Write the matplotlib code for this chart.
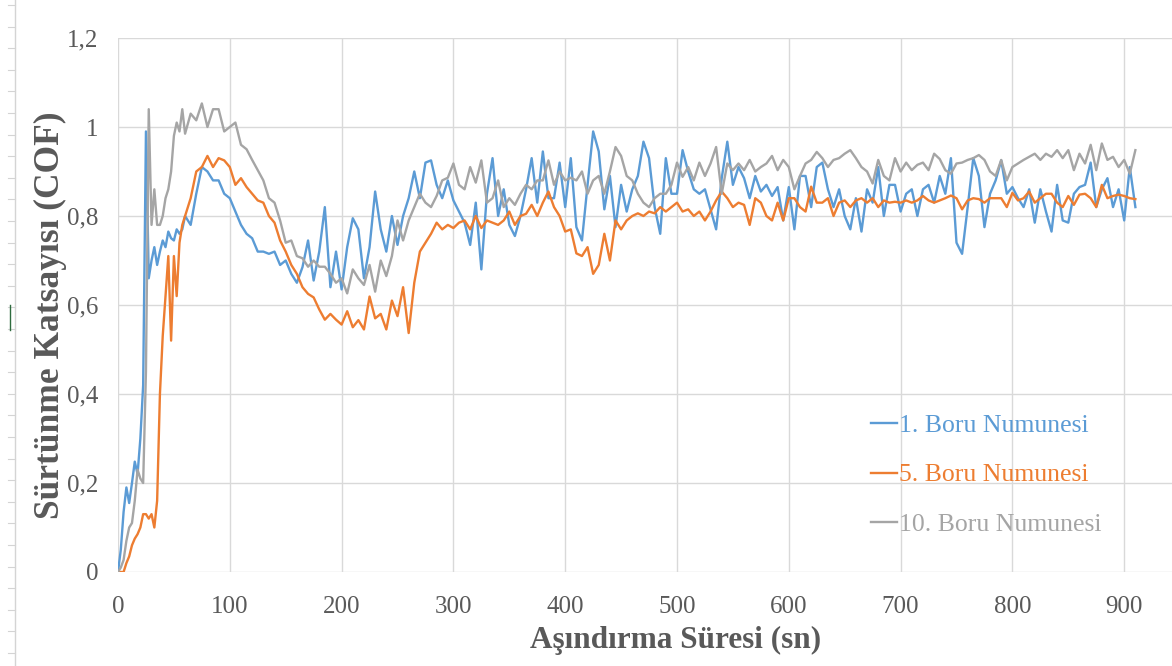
import numpy as np
import matplotlib
matplotlib.use("Agg")
import matplotlib.pyplot as plt
from matplotlib.lines import Line2D

# ---------------- data ----------------
time_s = np.concatenate([np.arange(0, 60, 2.5), np.arange(60, 911, 5)])

boru_1 = [
    0, 0.05, 0.135, 0.19, 0.155, 0.20, 0.248, 0.22, 0.30, 0.42,
    0.99, 0.66, 0.70, 0.73, 0.69, 0.72, 0.745, 0.73, 0.765, 0.75,
    0.745, 0.77, 0.76, 0.77,
    0.80, 0.78, 0.85, 0.91, 0.90, 0.88, 0.88, 0.85, 0.84, 0.81,
    0.78, 0.76, 0.75, 0.72, 0.72, 0.715, 0.72, 0.69, 0.70, 0.67,
    0.65, 0.685, 0.745, 0.655, 0.72, 0.82, 0.64, 0.72, 0.635, 0.73,
    0.795, 0.77, 0.66, 0.73, 0.855, 0.77, 0.72, 0.80, 0.735, 0.80,
    0.84, 0.90, 0.84, 0.92, 0.925, 0.87, 0.84, 0.88, 0.835, 0.81,
    0.785, 0.735, 0.83, 0.68, 0.85, 0.93, 0.80, 0.86, 0.78, 0.755,
    0.80, 0.86, 0.93, 0.83, 0.945, 0.84, 0.84, 0.92, 0.82, 0.93,
    0.775, 0.745, 0.87, 0.99, 0.945, 0.815, 0.89, 0.775, 0.87, 0.81,
    0.86, 0.89, 0.967, 0.93, 0.82, 0.76, 0.93, 0.85, 0.85, 0.948,
    0.90, 0.86, 0.85, 0.86, 0.815, 0.77, 0.885, 0.967, 0.87, 0.91,
    0.885, 0.84, 0.89, 0.855, 0.87, 0.845, 0.865, 0.79, 0.865, 0.77,
    0.89, 0.89, 0.82, 0.91, 0.92, 0.86, 0.82, 0.86, 0.80, 0.77,
    0.84, 0.765, 0.86, 0.83, 0.91, 0.80, 0.87, 0.87, 0.81, 0.85,
    0.86, 0.80, 0.86, 0.87, 0.83, 0.89, 0.85, 0.93, 0.74, 0.715,
    0.82, 0.93, 0.89, 0.775, 0.85, 0.88, 0.925, 0.85, 0.865, 0.84,
    0.82, 0.86, 0.785, 0.86, 0.81, 0.765, 0.87, 0.79, 0.785, 0.85,
    0.865, 0.87, 0.92, 0.82, 0.86, 0.885, 0.82, 0.86, 0.79, 0.91,
    0.82,
]

boru_5 = [
    0, 0, 0.0, 0.02, 0.035, 0.06, 0.075, 0.085, 0.10, 0.13,
    0.13, 0.12, 0.13, 0.10, 0.16, 0.40, 0.53, 0.62, 0.71, 0.52,
    0.71, 0.62, 0.74, 0.78,
    0.80, 0.84, 0.90, 0.91, 0.935, 0.91, 0.93, 0.925, 0.91, 0.87,
    0.885, 0.865, 0.85, 0.835, 0.83, 0.80, 0.785, 0.745, 0.72, 0.69,
    0.67, 0.64, 0.625, 0.617, 0.59, 0.567, 0.58, 0.567, 0.556, 0.586,
    0.55, 0.566, 0.545, 0.619, 0.57, 0.58, 0.545, 0.61, 0.575, 0.64,
    0.537, 0.65, 0.72, 0.74, 0.76, 0.785, 0.77, 0.78, 0.773, 0.785,
    0.79, 0.77, 0.80, 0.773, 0.79, 0.785, 0.78, 0.79, 0.81, 0.78,
    0.80, 0.805, 0.825, 0.80, 0.83, 0.855, 0.82, 0.80, 0.765, 0.77,
    0.716, 0.71, 0.73, 0.67, 0.69, 0.76, 0.70, 0.79, 0.77, 0.79,
    0.80, 0.806, 0.80, 0.81, 0.806, 0.82, 0.81, 0.82, 0.83, 0.81,
    0.815, 0.80, 0.81, 0.79, 0.81, 0.835, 0.855, 0.84, 0.82, 0.83,
    0.825, 0.78, 0.84, 0.83, 0.80, 0.79, 0.83, 0.79, 0.84, 0.84,
    0.82, 0.81, 0.866, 0.83, 0.83, 0.84, 0.80, 0.83, 0.835, 0.82,
    0.835, 0.84, 0.83, 0.84, 0.82, 0.835, 0.83, 0.832, 0.83, 0.835,
    0.83, 0.835, 0.845, 0.835, 0.83, 0.835, 0.84, 0.846, 0.84, 0.815,
    0.835, 0.84, 0.838, 0.83, 0.84, 0.84, 0.84, 0.82, 0.852, 0.835,
    0.84, 0.855, 0.83, 0.84, 0.85, 0.85, 0.83, 0.82, 0.845, 0.825,
    0.848, 0.85, 0.84, 0.82, 0.87, 0.84, 0.845, 0.848, 0.845, 0.84,
    0.838,
]

boru_10 = [
    0, 0.01, 0.027, 0.07, 0.10, 0.11, 0.16, 0.23, 0.21, 0.20,
    0.45, 1.04, 0.78, 0.86, 0.78, 0.78, 0.80, 0.84, 0.86, 0.90,
    0.98, 1.01, 0.99, 1.04,
    0.985, 1.03, 1.015, 1.053, 1.0, 1.04, 1.04, 0.99, 1.0, 1.01,
    0.96, 0.95, 0.926, 0.903, 0.88, 0.84, 0.83, 0.79, 0.74, 0.745,
    0.71, 0.705, 0.686, 0.70, 0.686, 0.686, 0.67, 0.65, 0.66, 0.626,
    0.68, 0.66, 0.645, 0.69, 0.63, 0.70, 0.665, 0.71, 0.79, 0.745,
    0.79, 0.82, 0.85, 0.83, 0.82, 0.845, 0.88, 0.886, 0.918, 0.87,
    0.86, 0.91, 0.875, 0.925, 0.83, 0.84, 0.88, 0.82, 0.84, 0.825,
    0.85, 0.87, 0.86, 0.88, 0.88, 0.925, 0.87, 0.90, 0.88, 0.886,
    0.88, 0.90, 0.85, 0.88, 0.89, 0.85, 0.90, 0.955, 0.935, 0.89,
    0.88, 0.85, 0.83, 0.82, 0.84, 0.85, 0.85, 0.87, 0.92, 0.888,
    0.91, 0.88, 0.92, 0.89, 0.918, 0.955, 0.85, 0.918, 0.903, 0.918,
    0.903, 0.926, 0.90, 0.91, 0.918, 0.935, 0.903, 0.926, 0.91, 0.86,
    0.89, 0.918, 0.926, 0.944, 0.93, 0.91, 0.926, 0.93, 0.94, 0.948,
    0.93, 0.91, 0.90, 0.873, 0.926, 0.89, 0.88, 0.93, 0.90, 0.92,
    0.903, 0.915, 0.92, 0.903, 0.94, 0.928, 0.903, 0.895, 0.918, 0.92,
    0.926, 0.93, 0.937, 0.926, 0.90, 0.89, 0.926, 0.88, 0.91, 0.918,
    0.926, 0.933, 0.94, 0.926, 0.94, 0.933, 0.948, 0.93, 0.948, 0.903,
    0.94, 0.918, 0.96, 0.903, 0.963, 0.926, 0.933, 0.91, 0.926, 0.895,
    0.948,
]

series_labels = ["1. Boru Numunesi", "5. Boru Numunesi", "10. Boru Numunesi"]
series_colors = ["#5B9BD5", "#ED7D31", "#A5A5A5"]
x_ticks = [0, 100, 200, 300, 400, 500, 600, 700, 800, 900]
y_ticks = [0, 0.2, 0.4, 0.6, 0.8, 1.0, 1.2]
y_tick_labels = ["0", "0,2", "0,4", "0,6", "0,8", "1", "1,2"]
x_label = "Aşındırma Süresi (sn)"
y_label = "Sürtünme Katsayısı (COF)"

# ---------------- figure ----------------
plt.rcParams["font.family"] = ["Liberation Serif", "DejaVu Serif"]
W, H = 1172, 666
fig = plt.figure(figsize=(W / 100, H / 100), dpi=100)

ax = fig.add_axes([118 / W, 94 / H, (W - 118) / W, 534 / H])
ax.set_xlim(0, (W - 118) / 1.118)
ax.set_ylim(0, 1.2)

for vals, lab, col in zip([boru_1, boru_5, boru_10], series_labels, series_colors):
    ax.plot(time_s, vals, color=col, lw=1.7, label=lab, solid_joinstyle="round")

ax.set_xticks(x_ticks)
ax.set_yticks(y_ticks)
ax.set_yticklabels(y_tick_labels)
ax.grid(True, color="#D9D9D9", lw=1.0)
ax.set_axisbelow(True)
for s in ax.spines.values():
    s.set_visible(False)
ax.tick_params(axis="both", length=0, labelsize=18, colors="#595959")
ax.tick_params(axis="x", pad=17)
ax.tick_params(axis="y", pad=14)

fig.text(676 / W, 1 - 640 / H, x_label, ha="center", va="center",
         fontsize=22.5, fontweight="bold", color="#595959")
fig.text(50 / W, 1 - 315 / H, y_label, ha="center", va="center", rotation=90,
         fontsize=25.5, fontweight="bold", color="#595959")

leg = ax.legend(loc="center left", bbox_to_anchor=(848 / W, 1 - 475 / H),
                bbox_transform=fig.transFigure, frameon=False, fontsize=18.5,
                handlelength=1.0, handletextpad=0.1, labelspacing=1.05,
                labelcolor="linecolor")

# spreadsheet ruler remnant at the left edge
fig.add_artist(Line2D([15 / W, 15 / W], [0, 1], color="#D4D4D4", lw=1.0))
for yy in np.arange(5, H, 21.6):
    fig.add_artist(Line2D([8 / W, 15 / W], [1 - yy / H, 1 - yy / H], color="#D4D4D4", lw=0.8))
fig.add_artist(Line2D([10 / W, 10 / W], [1 - 305 / H, 1 - 330 / H], color="#2E6B3E", lw=1.0))

fig.savefig("out.png", dpi=100)
